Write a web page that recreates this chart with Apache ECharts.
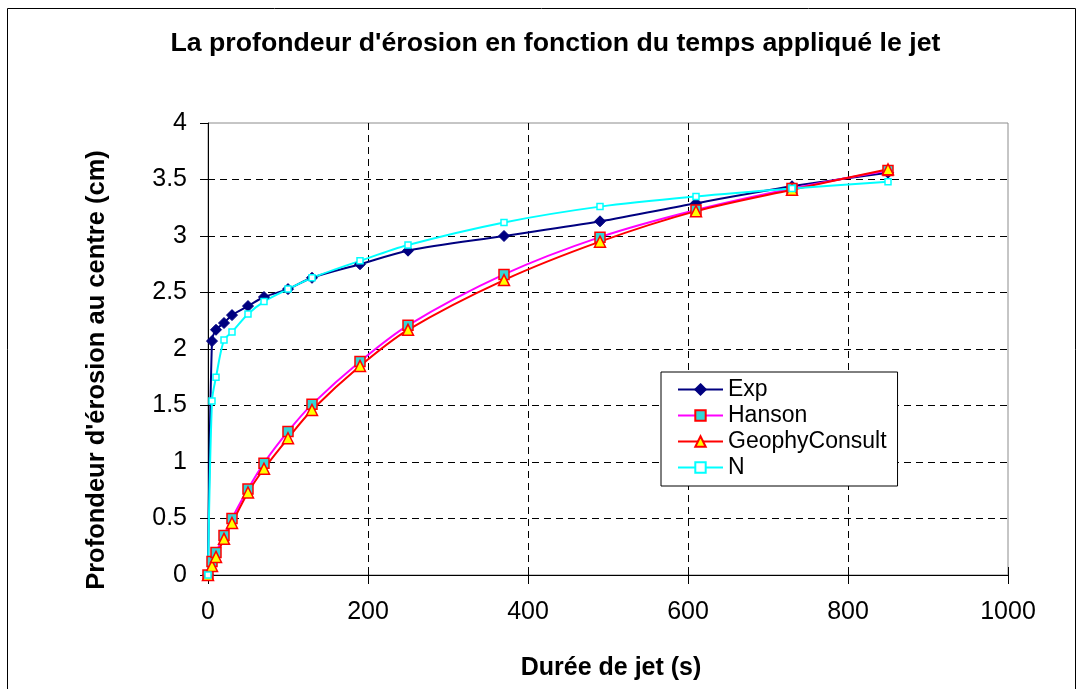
<!DOCTYPE html>
<html>
<head>
<meta charset="utf-8">
<script src="https://cdn.jsdelivr.net/npm/echarts@6/dist/echarts.min.js"></script>
<style>
html,body{margin:0;padding:0;background:#fff;}
#chart{width:1084px;height:689px;}
</style>
</head>
<body>
<div id="chart"></div>
<script>
// ---- data ----
const times = [0, 5, 10, 20, 30, 50, 70, 100, 130, 190, 250, 370, 490, 610, 730, 850];
const expValues = [0, 2.07, 2.17, 2.23, 2.30, 2.38, 2.46, 2.53, 2.63, 2.75, 2.87, 3.00, 3.13, 3.29, 3.44, 3.56];
const hansonValues = [0, 0.12, 0.20, 0.35, 0.50, 0.76, 0.99, 1.27, 1.51, 1.89, 2.21, 2.66, 2.99, 3.23, 3.42, 3.58];
const geophyValues = [0, 0.08, 0.16, 0.32, 0.46, 0.73, 0.94, 1.21, 1.46, 1.85, 2.17, 2.61, 2.95, 3.22, 3.41, 3.59];
const nValues = [0, 1.54, 1.75, 2.08, 2.15, 2.31, 2.42, 2.53, 2.63, 2.78, 2.92, 3.12, 3.26, 3.35, 3.42, 3.48];
const seriesNames = ['Exp', 'Hanson', 'GeophyConsult', 'N'];
const xTicks = [0, 200, 400, 600, 800, 1000];
const yTicks = [0, 0.5, 1, 1.5, 2, 2.5, 3, 3.5, 4];
const titleText = "La profondeur d'érosion en fonction du temps appliqué le jet";
const xTitle = 'Durée de jet (s)';
const yTitle = "Profondeur d'érosion au centre (cm)";

const FONT = "'Liberation Sans', Arial, Helvetica, sans-serif";
function pairs(vals) { return times.map((t, i) => [t, vals[i]]); }

const chart = echarts.init(document.getElementById('chart'), null, {renderer: 'canvas'});

const xBase = {
  type: 'value', min: xTicks[0], max: xTicks[xTicks.length - 1],
  interval: xTicks[1] - xTicks[0], position: 'bottom', gridIndex: 0
};

const option = {
  animation: false,
  backgroundColor: '#ffffff',
  grid: {
    left: 208, right: 76, top: 123, bottom: 114,
    containLabel: false, outerBoundsMode: 'none',
    show: true, borderColor: '#8c8c8c', borderWidth: 1, backgroundColor: 'transparent'
  },
  graphic: [
    {type: 'rect', silent: true, shape: {x: 7.5, y: 8.5, width: 1068, height: 700},
     style: {fill: 'none', stroke: '#000', lineWidth: 1}},
    {type: 'text', silent: true, x: 170.5, y: 44,
     style: {text: titleText, font: 'bold 26.7px ' + FONT, fill: '#000', textAlign: 'left', textVerticalAlign: 'middle'}},
    {type: 'text', silent: true, x: 611, y: 668,
     style: {text: xTitle, font: 'bold 25px ' + FONT, fill: '#000', textAlign: 'center', textVerticalAlign: 'middle'}},
    {type: 'text', silent: true, x: 97, y: 370, rotation: Math.PI / 2,
     style: {text: yTitle, font: 'bold 25.5px ' + FONT, fill: '#000', textAlign: 'center', textVerticalAlign: 'middle'}}
  ],
  legend: {
    orient: 'vertical', left: 661, top: 372,
    data: seriesNames,
    padding: [6, 11, 7, 16],
    itemGap: 3,
    itemWidth: 45, itemHeight: 13,
    borderColor: '#000', borderWidth: 1, borderRadius: 0,
    backgroundColor: '#fff',
    textStyle: {fontFamily: FONT, fontSize: 23, color: '#000', lineHeight: 23}
  },
  xAxis: [
    Object.assign({}, xBase, {
      axisLine: {show: true, onZero: false, lineStyle: {color: '#000', width: 1}},
      axisTick: {show: true, inside: false, length: 9, lineStyle: {color: '#000'}},
      axisLabel: {show: true, margin: 25, fontFamily: FONT, fontSize: 25, color: '#000',
                  formatter: function (v) { return String(v); }},
      splitLine: {show: true, showMinLine: false, showMaxLine: false, lineStyle: {color: '#000', type: [7, 5], width: 1}}
    }),
    Object.assign({}, xBase, {
      axisLine: {show: false},
      axisTick: {show: true, inside: true, length: 8, lineStyle: {color: '#000'}},
      axisLabel: {show: false},
      splitLine: {show: false}
    })
  ],
  yAxis: {
    type: 'value', min: yTicks[0], max: yTicks[yTicks.length - 1], interval: yTicks[1] - yTicks[0],
    axisLine: {show: true, onZero: false, lineStyle: {color: '#000', width: 1}},
    axisTick: {show: true, inside: false, length: 8, lineStyle: {color: '#000'}},
    axisLabel: {show: true, margin: 21, fontFamily: FONT, fontSize: 25, color: '#000',
                formatter: function (v) { return String(v); }},
    splitLine: {show: true, showMinLine: false, showMaxLine: false, lineStyle: {color: '#000', type: [7, 5], width: 1}}
  },
  series: [
    {
      name: seriesNames[0], type: 'line', xAxisIndex: 0, data: pairs(expValues), smooth: 0.3,
      symbol: 'diamond', symbolSize: 11,
      lineStyle: {color: '#000080', width: 2},
      itemStyle: {color: '#000080', borderColor: '#000080', borderWidth: 1}
    },
    {
      name: seriesNames[1], type: 'line', xAxisIndex: 0, data: pairs(hansonValues), smooth: 0.3,
      symbol: 'rect', symbolSize: 10,
      lineStyle: {color: '#ff00ff', width: 2},
      itemStyle: {color: '#33d6d6', borderColor: '#ff0000', borderWidth: 1.5}
    },
    {
      name: seriesNames[2], type: 'line', xAxisIndex: 0, data: pairs(geophyValues), smooth: 0.3,
      symbol: 'triangle', symbolSize: 11,
      lineStyle: {color: '#ff0000', width: 2},
      itemStyle: {color: '#ffff00', borderColor: '#ff0000', borderWidth: 1.5}
    },
    {
      name: seriesNames[3], type: 'line', xAxisIndex: 0, data: pairs(nValues), smooth: 0.3,
      symbol: 'rect', symbolSize: 6,
      lineStyle: {color: '#00ffff', width: 2},
      itemStyle: {color: '#ffffff', borderColor: '#00ffff', borderWidth: 1.5}
    }
  ]
};
chart.setOption(option);
</script>
</body>
</html>
